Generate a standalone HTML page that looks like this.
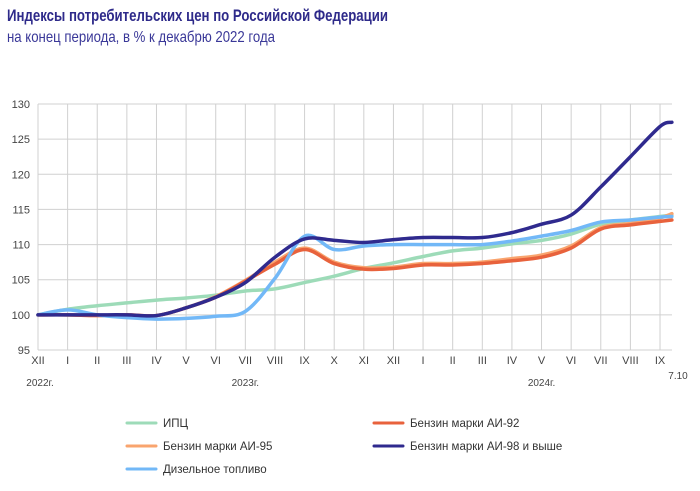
<!DOCTYPE html>
<html><head><meta charset="utf-8"><style>
body{margin:0;background:#fff;width:700px;height:486px;overflow:hidden;font-family:"Liberation Sans",sans-serif}
</style></head><body>
<svg id="chart" width="700" height="486" xmlns="http://www.w3.org/2000/svg" font-family="Liberation Sans, sans-serif">
<text x="7" y="21" font-size="16.5" font-weight="bold" fill="#2e2a8a" textLength="381" lengthAdjust="spacingAndGlyphs">Индексы потребительских цен по Российской Федерации</text>
<text x="7" y="42" font-size="16" fill="#3a3898" textLength="268" lengthAdjust="spacingAndGlyphs">на конец периода, в % к декабрю 2022 года</text>
<g id="grid"></g><g id="axes"></g><g id="series"></g><g id="legend"></g>
</svg>
<script>
const months=["XII","I","II","III","IV","V","VI","VII","VIII","IX","X","XI","XII","I","II","III","IV","V","VI","VII","VIII","IX"];
const xPos=[0,1,2,3,4,5,6,7,8,9,10,11,12,13,14,15,16,17,18,19,20,21,21.4];
const yTicks=[95,100,105,110,115,120,125,130];
const years=[{t:"2022г.",i:0},{t:"2023г.",i:7},{t:"2024г.",i:17}];
const ipc=[100,100.8,101.3,101.7,102.1,102.4,102.8,103.4,103.7,104.6,105.5,106.6,107.4,108.3,109.1,109.5,110.1,110.6,111.5,112.9,113.5,114.0,114.2];
const ai92=[100,100.0,99.9,100,99.9,101,102.5,104.8,107.2,109.3,107.3,106.5,106.6,107.1,107.1,107.3,107.7,108.2,109.5,112.2,112.8,113.3,113.5];
const ai95=[100,100.0,99.9,100,99.9,101,102.6,104.9,107.5,109.5,107.5,106.7,106.8,107.3,107.3,107.5,108.0,108.5,109.8,112.4,113.0,113.8,114.4];
const ai98=[100,100,100,100,99.9,101,102.5,104.6,108.2,110.8,110.6,110.3,110.7,111.0,111.0,111.0,111.7,112.9,114.2,118.2,122.5,126.8,127.4];
const diesel=[100,100.7,100,99.6,99.4,99.5,99.8,100.5,105.2,111.2,109.3,109.8,110.0,110.0,110.0,110.0,110.5,111.2,112.0,113.2,113.5,113.9,114.0];
const X0=38,DX=29.62,Y0=350,YMIN=95,YMAX=130,H=246,XEND=672;
const xs=i=>X0+i*DX, ys=v=>Y0-(v-YMIN)/(YMAX-YMIN)*H;
const NS="http://www.w3.org/2000/svg";
function mk(tag,attrs,parent){const e=document.createElementNS(NS,tag);for(const k in attrs)e.setAttribute(k,attrs[k]);parent.appendChild(e);return e;}
const grid=document.getElementById('grid'),axes=document.getElementById('axes'),ser=document.getElementById('series'),leg=document.getElementById('legend');
yTicks.forEach(v=>{
 const l=mk('line',{x1:X0,x2:XEND,y1:ys(v),y2:ys(v),stroke:'#d0d0d0','stroke-width':1},grid);
 
 
 const t=mk('text',{x:30,y:ys(v)+4,'font-size':11,fill:'#444','text-anchor':'end'},axes);
 t.textContent=v;
 
 
});
months.forEach((m,i)=>{
 const l=mk('line',{x1:xs(i),x2:xs(i),y1:ys(YMAX),y2:Y0,stroke:'#d0d0d0','stroke-width':1},grid);
 
 
 const t=mk('text',{x:xs(i),y:364,'font-size':11,fill:'#444','text-anchor':'middle'},axes);
 t.textContent=m;
 
 
});
years.forEach(y=>{
 const t=mk('text',{x:xs(y.i)+(y.i==0?2:0),y:386,'font-size':10,fill:'#444','text-anchor':'middle'},axes);
 t.textContent=y.t;
 
 
});
const d710=mk('text',{x:678,y:379,'font-size':10,fill:'#444','text-anchor':'middle'},axes);
d710.textContent="7.10";


function path(vals){
 const p=vals.map((v,i)=>[xs(xPos[i]),ys(v)]);
 let d=`M${p[0][0]},${p[0][1]}`;
 for(let i=0;i<p.length-1;i++){
  const a=p[Math.max(0,i-1)],b=p[i],c=p[i+1],e=p[Math.min(p.length-1,i+2)];
  const c1=[b[0]+(c[0]-a[0])/6,b[1]+(c[1]-a[1])/6],c2=[c[0]-(e[0]-b[0])/6,c[1]-(e[1]-b[1])/6];
  d+=`C${c1[0]},${c1[1]} ${c2[0]},${c2[1]} ${c[0]},${c[1]}`;
 }
 return d;
}
const series=[
 {v:ipc,c:'#9ddbb8',n:'ipc-line',label:'ИПЦ',lx:127,ly:423},
 {v:ai95,c:'#f9a46e',n:'ai95-line',label:'Бензин марки АИ-95',lx:127,ly:446},
 {v:ai92,c:'#e8623c',n:'ai92-line',label:'Бензин марки АИ-92',lx:374,ly:423},
 {v:diesel,c:'#72b8f7',n:'diesel-line',label:'Дизельное топливо',lx:127,ly:469},
 {v:ai98,c:'#2f2a8e',n:'ai98-line',label:'Бензин марки АИ-98 и выше',lx:374,ly:446}
];
series.forEach(s=>{
 const p=mk('path',{d:path(s.v),fill:'none',stroke:s.c,'stroke-width':3.5,'stroke-linecap':'round','stroke-linejoin':'round'},ser);
 
 
 const g=mk('g',{},leg);
 
 
 mk('line',{x1:s.lx,x2:s.lx+29,y1:s.ly,y2:s.ly,stroke:s.c,'stroke-width':3,'stroke-linecap':'round'},g);
 const t=mk('text',{x:s.lx+36,y:s.ly+4,'font-size':11.5,fill:'#333'},g);
 t.textContent=s.label;
});
</script>
</body></html>
